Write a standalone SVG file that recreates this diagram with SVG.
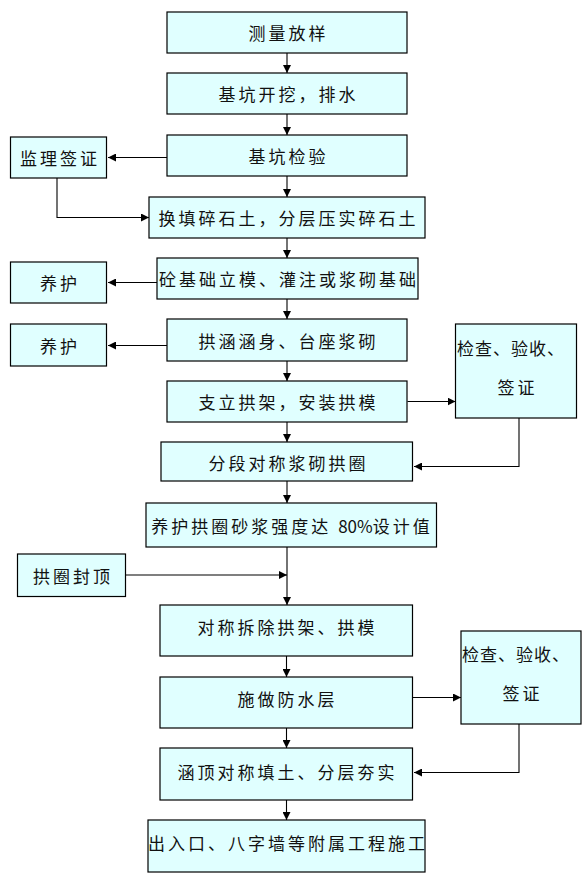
<svg xmlns="http://www.w3.org/2000/svg" width="586" height="879" viewBox="0 0 586 879">
<style>
.b{fill:#E0FFFF;stroke:#000;stroke-width:1.2}
.t{font-family:"Noto Sans CJK SC","Liberation Sans",sans-serif;font-size:17px;letter-spacing:3px;fill:#111;text-anchor:middle;dominant-baseline:central}
.tl{font-family:"Noto Sans CJK SC","Liberation Sans",sans-serif;font-size:17px;letter-spacing:1px;fill:#111;dominant-baseline:central}
.c{fill:none;stroke:#000;stroke-width:1.1}
</style>
<defs>
<marker id="a" viewBox="0 0 10 10" refX="10" refY="5" markerWidth="8" markerHeight="8" markerUnits="userSpaceOnUse" orient="auto"><path d="M0,0 L10,5 L0,10 z" fill="#000"/></marker>
</defs>
<rect width="586" height="879" fill="#fff"/>
<g id="connectors">
<path class="c" marker-end="url(#a)" d="M287,53 V73"/>
<path class="c" marker-end="url(#a)" d="M287,114 V135"/>
<path class="c" marker-end="url(#a)" d="M287,176 V197"/>
<path class="c" marker-end="url(#a)" d="M287,238 V258"/>
<path class="c" marker-end="url(#a)" d="M287,299 V319"/>
<path class="c" marker-end="url(#a)" d="M287,361 V381"/>
<path class="c" marker-end="url(#a)" d="M287,422 V442"/>
<path class="c" marker-end="url(#a)" d="M287,481 V503"/>
<path class="c" marker-end="url(#a)" d="M287,547 V605"/>
<path class="c" marker-end="url(#a)" d="M126,575 H287"/>
<path class="c" marker-end="url(#a)" d="M286.5,656 V677"/>
<path class="c" marker-end="url(#a)" d="M286.5,728 V748"/>
<path class="c" marker-end="url(#a)" d="M286.5,800 V820"/>
<path class="c" marker-end="url(#a)" d="M167,157.5 H108"/>
<path class="c" marker-end="url(#a)" d="M57,178 V217.5 H149"/>
<path class="c" marker-end="url(#a)" d="M157,282.5 H108"/>
<path class="c" marker-end="url(#a)" d="M167,345.5 H108"/>
<path class="c" marker-end="url(#a)" d="M407.5,401.5 H455.5"/>
<path class="c" marker-end="url(#a)" d="M519,418 V466.5 H414"/>
<path class="c" marker-end="url(#a)" d="M412.5,697.5 H461"/>
<path class="c" marker-end="url(#a)" d="M519,724 V772.5 H414"/>
</g>
<g id="n1"><rect class="b" x="167" y="12" width="240" height="41"/><text class="t" x="288.5" y="32.5">测量放样</text></g>
<g id="n2"><rect class="b" x="167" y="73" width="240" height="41"/><text class="t" x="288.5" y="93.5">基坑开挖，排水</text></g>
<g id="n3"><rect class="b" x="167" y="135" width="240" height="41"/><text class="t" x="288.5" y="155.5">基坑检验</text></g>
<g id="n3s"><rect class="b" x="10.5" y="137" width="96" height="41"/><text class="t" x="60" y="157.5">监理签证</text></g>
<g id="n4"><rect class="b" x="149" y="197" width="276" height="41"/><text class="t" x="288.5" y="217.5">换填碎石土，分层压实碎石土</text></g>
<g id="n5"><rect class="b" x="157" y="258" width="261" height="41"/><text class="t" x="289" y="278.5">砼基础立模、灌注或浆砌基础</text></g>
<g id="n5s"><rect class="b" x="10.5" y="262" width="96" height="41"/><text class="t" x="60" y="282.5">养护</text></g>
<g id="n6"><rect class="b" x="167" y="319" width="240" height="42"/><text class="t" x="288.5" y="340">拱涵涵身、台座浆砌</text></g>
<g id="n6s"><rect class="b" x="10.5" y="324" width="96" height="42"/><text class="t" x="60" y="345">养护</text></g>
<g id="n7"><rect class="b" x="167" y="381" width="240" height="41"/><text class="t" x="288.5" y="401.5">支立拱架，安装拱模</text></g>
<g id="n7s"><rect class="b" x="455.5" y="324" width="121" height="94"/><text class="tl" x="457" y="347.5">检查、验收、</text><text class="t" x="517.5" y="386.5">签证</text></g>
<g id="n8"><rect class="b" x="161" y="442" width="251.5" height="39"/><text class="t" x="288.5" y="462">分段对称浆砌拱圈</text></g>
<g id="n9"><rect class="b" x="146" y="503" width="290.5" height="44"/><text class="t" x="292" y="525">养护拱圈砂浆强度达 <tspan style="letter-spacing:0">80%</tspan>设计值</text></g>
<g id="n9s"><rect class="b" x="17.5" y="554" width="108" height="42.5"/><text class="t" x="73" y="575.5">拱圈封顶</text></g>
<g id="n10"><rect class="b" x="160" y="605" width="252.5" height="51"/><text class="t" x="287.5" y="626">对称拆除拱架、拱模</text></g>
<g id="n11"><rect class="b" x="160" y="677" width="252.5" height="51"/><text class="t" x="287.5" y="698">施做防水层</text></g>
<g id="n11s"><rect class="b" x="461" y="631" width="120" height="93"/><text class="tl" x="462" y="653.5">检查、验收、</text><text class="t" x="522.5" y="692">签证</text></g>
<g id="n12"><rect class="b" x="160" y="748" width="252.5" height="52"/><text class="t" x="287.5" y="771">涵顶对称填土、分层夯实</text></g>
<g id="n13"><rect class="b" x="148" y="820" width="277" height="52"/><text class="t" x="288" y="842">出入口、八字墙等附属工程施工</text></g>
</svg>
